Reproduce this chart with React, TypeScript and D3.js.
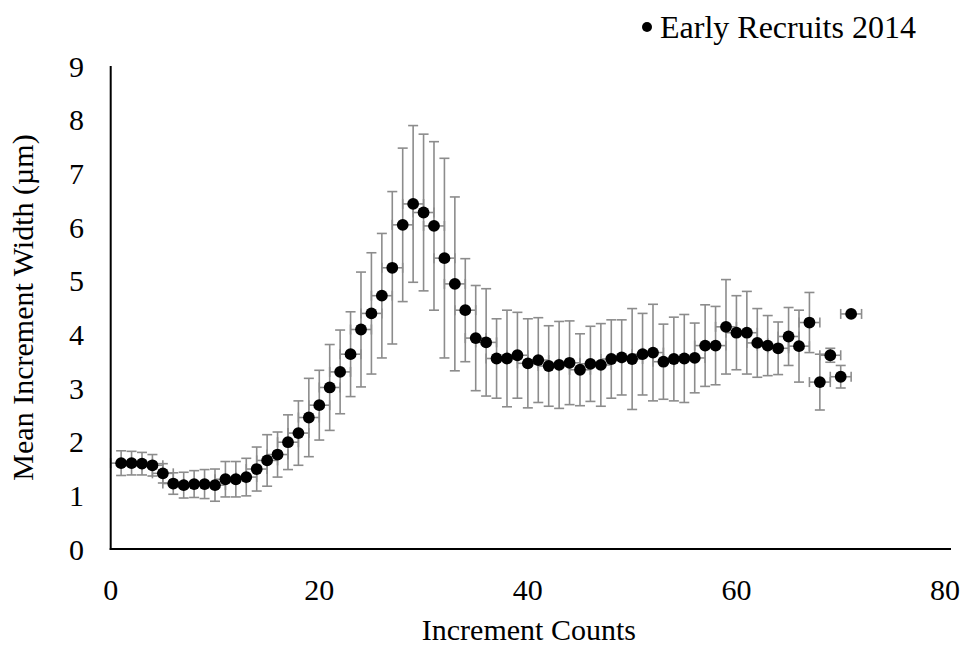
import * as d3 from 'd3'

// mean increment width per increment count
const counts = [
  1, 2, 3, 4, 5, 6, 7, 8, 9, 10, 11, 12, 13, 14, 15, 16, 17, 18, 19, 20,
  21, 22, 23, 24, 25, 26, 27, 28, 29, 30, 31, 32, 33, 34, 35, 36, 37, 38, 39, 40,
  41, 42, 43, 44, 45, 46, 47, 48, 49, 50, 51, 52, 53, 54, 55, 56, 57, 58, 59, 60,
  61, 62, 63, 64, 65, 66, 67, 68, 69, 70, 71,
]
const means = [
  1.6, 1.6, 1.59, 1.56, 1.41, 1.22, 1.19, 1.21, 1.21, 1.19, 1.3, 1.3, 1.34, 1.49, 1.65, 1.76, 1.99, 2.16, 2.45, 2.68,
  3.01, 3.3, 3.63, 4.09, 4.39, 4.72, 5.24, 6.04, 6.43, 6.27, 6.02, 5.42, 4.94, 4.45, 3.93, 3.85, 3.55, 3.55, 3.61, 3.46,
  3.52, 3.41, 3.43, 3.47, 3.34, 3.45, 3.43, 3.54, 3.57, 3.54, 3.63, 3.66, 3.49, 3.54, 3.55, 3.56, 3.79, 3.79, 4.14, 4.03,
  4.03, 3.84, 3.79, 3.74, 3.96, 3.78, 4.22, 3.11, 3.61, 3.21, 4.38,
]
const yErrors = [
  0.23, 0.22, 0.21, 0.2, 0.18, 0.2, 0.24, 0.25, 0.27, 0.3, 0.33, 0.33, 0.35, 0.41, 0.48, 0.42, 0.51, 0.6, 0.73, 0.65,
  0.8, 0.78, 0.79, 1.07, 1.13, 1.16, 1.42, 1.43, 1.46, 1.46, 1.57, 1.86, 1.62, 0.96, 0.98, 1.0, 0.74, 0.9, 0.8, 0.83,
  0.79, 0.75, 0.81, 0.78, 0.67, 0.7, 0.77, 0.73, 0.7, 0.94, 0.76, 0.9, 0.7, 0.78, 0.82, 0.65, 0.76, 0.73, 0.88, 0.69,
  0.77, 0.64, 0.56, 0.49, 0.54, 0.67, 0.56, 0.52, 0.13, 0.21, 0,
]
const xError = 1

const xTicks = [0, 20, 40, 60, 80]
const yTicks = [0, 1, 2, 3, 4, 5, 6, 7, 8, 9]
const seriesName = 'Early Recruits 2014'

const W = 969
const H = 646
const FONT = '"Liberation Serif", "Times New Roman", serif'
const BAR = '#8c8c8c'

export default function App() {
  const x = d3.scaleLinear().domain([0, 80]).range([110.7, 945])
  const y = d3.scaleLinear().domain([0, 9]).range([549, 66])
  const cap = 5

  const points = counts.map((c, i) => ({ c, m: means[i], e: yErrors[i] }))

  return (
    <svg
      width={W}
      height={H}
      style={{ position: 'absolute', left: 0, top: 0, background: '#fff' }}
      fontFamily={FONT}
    >
      {/* error bars */}
      <g stroke={BAR} strokeWidth={1.6} fill="none">
        {points.map(p => {
          const cx = x(p.c)
          const cy = y(p.m)
          const x0 = x(p.c - xError)
          const x1 = x(p.c + xError)
          return (
            <g key={p.c}>
              {p.e > 0 && (
                <>
                  <line x1={cx} x2={cx} y1={y(p.m + p.e)} y2={y(p.m - p.e)} />
                  <line x1={cx - cap} x2={cx + cap} y1={y(p.m + p.e)} y2={y(p.m + p.e)} />
                  <line x1={cx - cap} x2={cx + cap} y1={y(p.m - p.e)} y2={y(p.m - p.e)} />
                </>
              )}
              <line x1={x0} x2={x1} y1={cy} y2={cy} />
              <line x1={x0} x2={x0} y1={cy - cap} y2={cy + cap} />
              <line x1={x1} x2={x1} y1={cy - cap} y2={cy + cap} />
            </g>
          )
        })}
      </g>

      {/* markers */}
      <g fill="#000">
        {points.map(p => (
          <circle key={p.c} cx={x(p.c)} cy={y(p.m)} r={5.9} />
        ))}
      </g>

      {/* axes */}
      <line x1={x(0)} x2={x(0)} y1={y(9)} y2={y(0) + 1} stroke="#000" strokeWidth={2} />
      <line x1={x(0) - 1} x2={x(80) + 6} y1={y(0)} y2={y(0)} stroke="#000" strokeWidth={2} />

      <g fontSize={30} fill="#000">
        {yTicks.map(t => (
          <text key={t} x={84} y={y(t)} dy="0.35em" textAnchor="end">
            {t}
          </text>
        ))}
        {xTicks.map(t => (
          <text key={t} x={x(t)} y={589} dy="0.35em" textAnchor="middle">
            {t}
          </text>
        ))}
      </g>

      <text x={x(40) + 1} y={640} fontSize={30} textAnchor="middle">
        Increment Counts
      </text>
      <text
        transform={`translate(33, ${(y(0) + y(9)) / 2}) rotate(-90)`}
        fontSize={30}
        textAnchor="middle"
      >
        Mean Increment Width (µm)
      </text>

      {/* legend */}
      <circle cx={647} cy={27} r={5} fill="#000" />
      <text x={660} y={38} fontSize={32}>
        {seriesName}
      </text>
    </svg>
  )
}
